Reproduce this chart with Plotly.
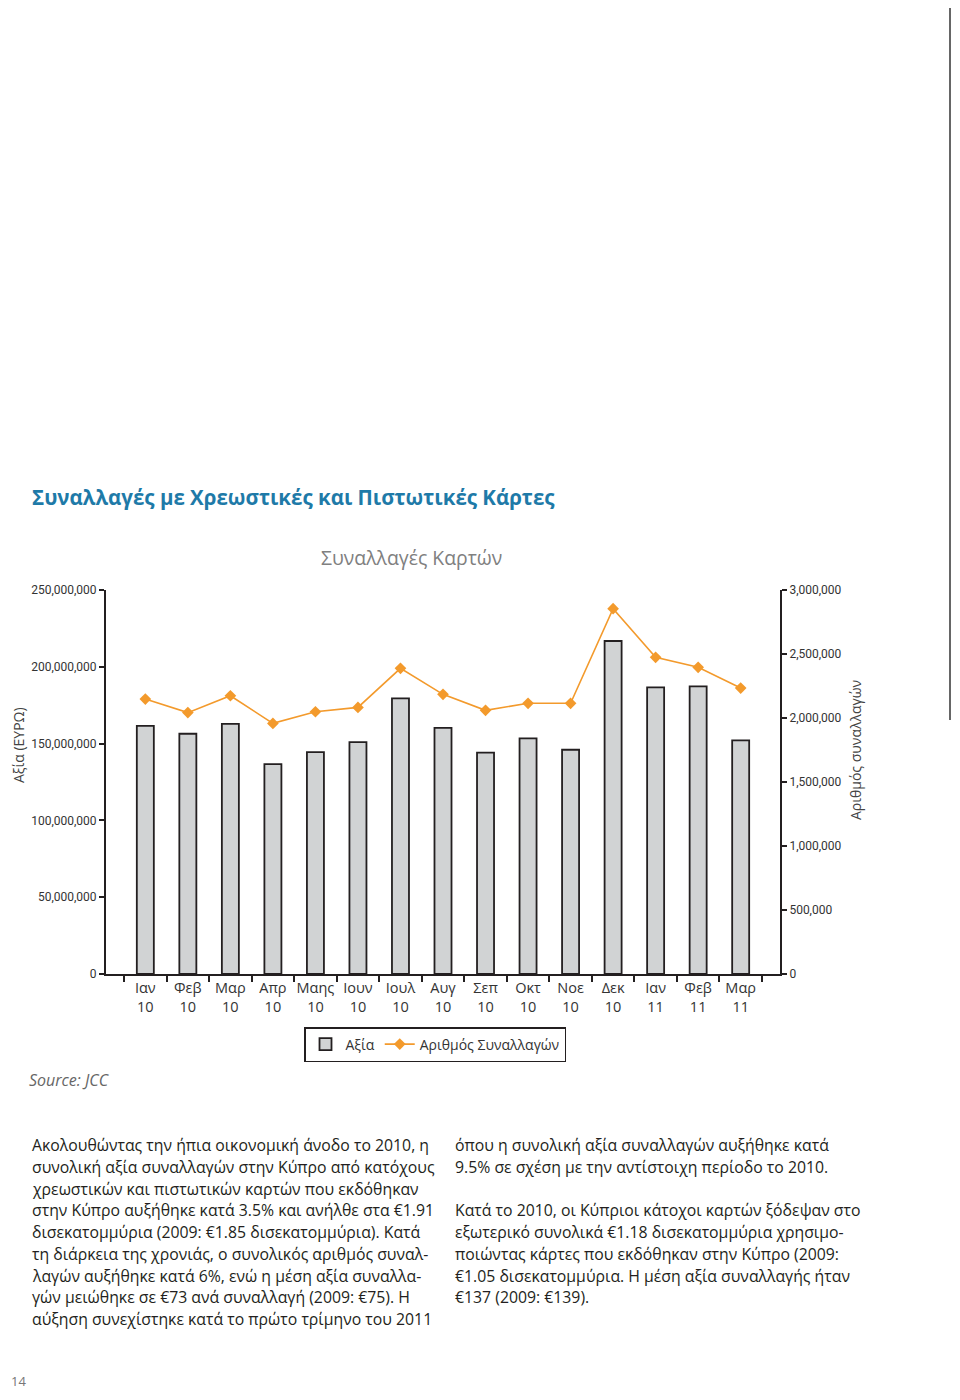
import plotly.graph_objects as go

months = ["Ιαν", "Φεβ", "Μαρ", "Απρ", "Μαης", "Ιουν", "Ιουλ", "Αυγ", "Σεπ", "Οκτ", "Νοε", "Δεκ", "Ιαν", "Φεβ", "Μαρ"]
years = ["10", "10", "10", "10", "10", "10", "10", "10", "10", "10", "10", "10", "11", "11", "11"]
value_eur = [161.5e6, 156.4e6, 162.8e6, 136.7e6, 144.5e6, 151.0e6, 179.5e6, 160.2e6,
             144.1e6, 153.4e6, 146.0e6, 216.8e6, 186.6e6, 187.3e6, 152.1e6]
num_transactions = [2148e3, 2042e3, 2174e3, 1958e3, 2049e3, 2083e3, 2388e3, 2185e3,
                    2060e3, 2115e3, 2115e3, 2854e3, 2474e3, 2396e3, 2234e3]

left_text = [
    "Ακολουθώντας την ήπια οικονομική άνοδο το 2010, η",
    "συνολική αξία συναλλαγών στην Κύπρο από κατόχους",
    "χρεωστικών και πιστωτικών καρτών που εκδόθηκαν",
    "στην Κύπρο αυξήθηκε κατά 3.5% και ανήλθε στα €1.91",
    "δισεκατομμύρια (2009: €1.85 δισεκατομμύρια). Κατά",
    "τη διάρκεια της χρονιάς, ο συνολικός αριθμός συναλ-",
    "λαγών αυξήθηκε κατά 6%, ενώ η μέση αξία συναλλα-",
    "γών μειώθηκε σε €73 ανά συναλλαγή (2009: €75). Η",
    "αύξηση συνεχίστηκε κατά το πρώτο τρίμηνο του 2011",
]
right_text = [
    "όπου η συνολική αξία συναλλαγών αυξήθηκε κατά",
    "9.5% σε σχέση με την αντίστοιχη περίοδο το 2010.",
    "",
    "Κατά το 2010, οι Κύπριοι κάτοχοι καρτών ξόδεψαν στο",
    "εξωτερικό συνολικά €1.18 δισεκατομμύρια χρησιμο-",
    "ποιώντας κάρτες που εκδόθηκαν στην Κύπρο (2009:",
    "€1.05 δισεκατομμύρια. Η μέση αξία συναλλαγής ήταν",
    "€137 (2009: €139).",
]

categories = [f"{m}<br>{y}" for m, y in zip(months, years)]
cat_keys = [f"{m} {y}" for m, y in zip(months, years)]

# page coordinates (the browser body adds an 8px margin on every side)
OFF = 8
PAGE_W, PAGE_H = 960, 1400
W, H = PAGE_W - 2 * OFF, PAGE_H - 2 * OFF
L, R, T, B = 106, 780, 590, 974


def px(x):
    return (x - L) / (R - L)


def py(y):
    return (B - y) / (B - T)


fig = go.Figure()
fig.add_trace(go.Bar(
    x=cat_keys, y=value_eur, name="Αξία",
    marker=dict(color="#d1d3d4", line=dict(color="#231f20", width=1.8)),
    width=0.4, yaxis="y",
))
fig.add_trace(go.Scatter(
    x=cat_keys, y=num_transactions, name="Αριθμός Συναλλαγών",
    mode="lines+markers", yaxis="y2",
    line=dict(color="#f39a2c", width=1.6),
    marker=dict(symbol="diamond", size=9, color="#f39a2c"),
))

tickfont = dict(family="Liberation Sans Narrow, Arial Narrow, Roboto, sans-serif", size=12, color="#333333")
fig.update_layout(
    width=W, height=H,
    margin=dict(l=L - OFF, r=(OFF + W) - R, t=T - OFF, b=(OFF + H) - B, pad=0),
    paper_bgcolor="white", plot_bgcolor="white",
    font=dict(family="Open Sans, sans-serif", color="#333333"),
    xaxis=dict(
        type="category", categoryorder="array", categoryarray=cat_keys,
        tickvals=cat_keys, ticktext=categories, tickangle=0,
        tickson="boundaries", ticks="outside", ticklen=6, tickwidth=1.5, tickcolor="#231f20",
        showline=True, linecolor="#231f20", linewidth=2,
        showgrid=False, zeroline=False,
        tickfont=dict(family="Open Sans, sans-serif", size=14.5, color="#333333"),
    ),
    yaxis=dict(
        range=[0, 250e6], dtick=50e6, tick0=0, tickformat=",d",
        ticks="outside", ticklen=5, tickwidth=1.5, tickcolor="#231f20",
        showline=True, linecolor="#231f20", linewidth=2,
        showgrid=False, zeroline=False, tickfont=tickfont,
    ),
    yaxis2=dict(
        range=[0, 3e6], dtick=500e3, tick0=0, tickformat=",d",
        overlaying="y", side="right",
        ticks="outside", ticklen=5, tickwidth=1.5, tickcolor="#231f20",
        showline=True, linecolor="#231f20", linewidth=2,
        showgrid=False, zeroline=False, tickfont=tickfont,
    ),
    showlegend=True,
    legend=dict(
        orientation="h", x=px(435), y=py(1027), xanchor="center", yanchor="top",
        bordercolor="#231f20", borderwidth=1.5, bgcolor="white",
        font=dict(family="Open Sans, sans-serif", size=14, color="#333333"),
        traceorder="normal",
    ),
)

annotations = [
    dict(text="<b>Συναλλαγές με Χρεωστικές και Πιστωτικές Κάρτες</b>", x=px(30), y=py(497),
         xanchor="left", yanchor="middle", font=dict(family="Open Sans, sans-serif", size=20.5, color="#1e7aa8")),
    dict(text="Συναλλαγές Καρτών", x=px(411), y=py(557), xanchor="center", yanchor="middle",
         font=dict(family="Open Sans, sans-serif", size=19.4, color="#808080")),
    dict(text="Αξία (ΕΥΡΩ)", x=px(18), y=py(745), xanchor="center", yanchor="middle", textangle=-90,
         font=dict(family="Open Sans, sans-serif", size=14, color="#444444")),
    dict(text="Αριθμός συναλλαγών", x=px(855), y=py(750), xanchor="center", yanchor="middle", textangle=-90,
         font=dict(family="Open Sans, sans-serif", size=14, color="#444444")),
    dict(text="<i>Source: JCC</i>", x=px(27), y=py(1080), xanchor="left", yanchor="middle",
         font=dict(family="Open Sans, sans-serif", size=16, color="#666666")),
    dict(text="14", x=px(OFF + 1), y=py(OFF + H), xanchor="left", yanchor="bottom",
         font=dict(family="Open Sans, sans-serif", size=13, color="#777777")),
]
LINE_H = 21.75
for i, line in enumerate(left_text):
    if line:
        annotations.append(dict(text=line, x=px(30), y=py(1145 + i * LINE_H), xanchor="left", yanchor="middle",
                                font=dict(family="Open Sans, sans-serif", size=15.8, color="#231f20")))
for i, line in enumerate(right_text):
    if line:
        annotations.append(dict(text=line, x=px(453), y=py(1145 + i * LINE_H), xanchor="left", yanchor="middle",
                                font=dict(family="Open Sans, sans-serif", size=15.8, color="#231f20")))
for a in annotations:
    a.update(xref="paper", yref="paper", showarrow=False)
fig.update_layout(annotations=annotations)

line_x = min(956, OFF + W - 2)
fig.add_shape(type="line", xref="paper", yref="paper", x0=px(line_x), x1=px(line_x), y0=py(OFF), y1=py(720),
              line=dict(color="#666666", width=2))

fig.write_html("out.html", config={"displayModeBar": False})
